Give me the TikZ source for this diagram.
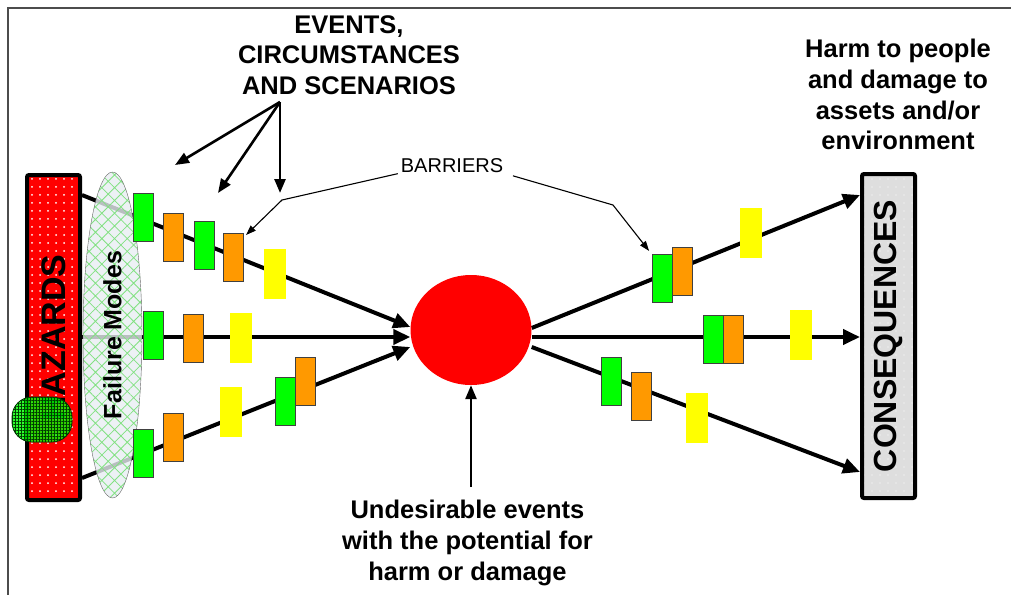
\documentclass[tikz,border=0pt]{standalone}
\usepackage{fontspec}
\setmainfont{Liberation Sans}
\usetikzlibrary{arrows.meta,shapes.geometric,patterns.meta}
\pgfdeclarelayer{back}
\pgfsetlayers{back,main}
\definecolor{hazred}{RGB}{255,0,0}
\definecolor{bargreen}{RGB}{0,255,0}
\definecolor{barorange}{RGB}{255,153,0}
\definecolor{baryellow}{RGB}{255,255,0}
\definecolor{modefill}{RGB}{232,238,242}
\definecolor{modehatch}{RGB}{130,225,130}
\definecolor{consgray}{RGB}{222,222,222}
\begin{document}
\begin{tikzpicture}[x=1pt,y=-1pt,
    gbar/.style={draw=black!75,line width=0.8pt,fill=bargreen,minimum width=20pt,minimum height=48pt,inner sep=0pt},
    obar/.style={gbar,fill=barorange},
    ybar/.style={fill=baryellow,minimum width=22pt,minimum height=50pt,inner sep=0pt},
    flow/.style={line width=4pt,-{Triangle[length=17pt,width=15pt]}},
    pointer/.style={line width=2.6pt,-{Triangle[length=14pt,width=11pt]}},
    thinpointer/.style={line width=1.1pt,-{Triangle[length=10pt,width=7pt]}},
    heading/.style={font=\fontsize{25.5}{30.7}\selectfont\bfseries,align=center,inner sep=0pt}]
  \useasboundingbox (0,0) rectangle (1011,595);
  \draw[line width=2pt,black!70] (1011,8) -- (8,8) -- (8,595);

  \node[draw,line width=4pt,rounded corners=2pt,preaction={fill=hazred},
        pattern={Dots[distance=8pt,radius=1pt]},pattern color=white,
        minimum width=325pt,minimum height=53pt,inner sep=0pt,rotate=90,
        font=\fontsize{34}{40}\selectfont\bfseries] (haz) at (53.5,337.5) {HAZARDS};
  \node[draw=green!20!black,line width=0.8pt,rounded corners=20pt,preaction={fill=bargreen,fill opacity=0.82},
        pattern={Hatch[angle=0,distance=3pt,line width=0.5pt]},pattern color=green!25!black,
        minimum width=60pt,minimum height=45pt,inner sep=0pt] (spot) at (42,419.5) {};
  \node[ellipse,draw=black!60,preaction={fill=modefill,fill opacity=0.8},
        pattern={Hatch[angle=45,distance=9pt,line width=0.8pt]},pattern color=modehatch,
        minimum width=326pt,minimum height=59pt,inner sep=0pt,rotate=90,
        font=\fontsize{25}{30}\selectfont\bfseries] (fm) at (112.5,335) {Failure Modes};
  \node[ellipse,fill=hazred,minimum width=121pt,minimum height=110pt,inner sep=0pt] (ev) at (471,330) {};
  \node[draw,line width=4pt,rounded corners=2pt,preaction={fill=consgray},
        pattern={Dots[distance=8pt,radius=0.7pt]},pattern color=white,
        minimum width=324pt,minimum height=53pt,inner sep=0pt,rotate=90,
        font=\fontsize{32}{38}\selectfont\bfseries] (cons) at (888.5,336) {CONSEQUENCES};

  \draw
    (143,217.5) node[gbar] (g1) {}
    (173,237) node[obar] (o1) {}
    (204,245.5) node[gbar] (g2) {}
    (233.5,257.5) node[obar] (o2) {}
    (274.5,274) node[ybar] (y1) {}
    (153,335) node[gbar] (g3) {}
    (193,338.5) node[obar] (o3) {}
    (241,338) node[ybar] (y2) {}
    (143,453.5) node[gbar] (g4) {}
    (173,437) node[obar] (o4) {}
    (231,412) node[ybar] (y3) {}
    (285.5,401) node[gbar] (g5) {}
    (305,381) node[obar] (o5) {}
    (662,278.5) node[gbar] (g6) {}
    (682,271) node[obar] (o6) {}
    (750.5,232.5) node[ybar] (y4) {}
    (713,339.5) node[gbar] (g7) {}
    (733,339.5) node[obar] (o7) {}
    (801,334.5) node[ybar] (y5) {}
    (611.5,381) node[gbar] (g8) {}
    (641,396) node[obar] (o8) {}
    (697,418) node[ybar] (y6) {};

  \node[heading,anchor=north] (evt) at (349,15) {EVENTS,\\CIRCUMSTANCES\\AND SCENARIOS};
  \node[heading,anchor=north] (harm) at (898,39) {Harm to people\\and damage to\\assets and/or\\environment};
  \node[heading,anchor=north] (undes) at (467.5,500) {Undesirable events\\with the potential for\\harm or damage};
  \node[font=\fontsize{20}{24}\selectfont,inner sep=0pt,anchor=south] (bar) at (452,173) {BARRIERS};

  \begin{pgfonlayer}{back}
    \draw[flow] (haz.south |- 0,195) -- (ev.west |- 0,327);
    \draw[flow] (haz.south |- 0,337) -- (ev.west |- 0,337);
    \draw[flow] (haz.south |- 0,478) -- (ev.west |- 0,347);
    \draw[flow] (ev.east |- 0,328) -- (cons.north |- 0,195);
    \draw[flow] (ev.east |- 0,337) -- (cons.north |- 0,337);
    \draw[flow] (ev.east |- 0,347) -- (cons.north |- 0,472);
  \end{pgfonlayer}

  \coordinate (evfoot) at (280,102);
  \coordinate (e1) at (175,165);
  \coordinate (e2) at (218,193);
  \coordinate (e3) at (280,193);
  \coordinate (bk1) at (282,200);
  \coordinate (bk2) at (613,205);
  \begin{scope}[pointer]
    \draw (evfoot) to (e1);
    \draw (evfoot) to (e2);
    \draw (evfoot) to (e3);
    \draw[shorten <=13pt] (undes.north -| ev.south) to (ev.south);
  \end{scope}
  \draw[thinpointer,shorten <=3pt,shorten >=3pt] (bar.south west) -- (bk1) -- (o2.63);
  \draw[thinpointer,shorten <=10pt,shorten >=4pt] (bar.south east) -- (bk2) -- (g6.north west);
\end{tikzpicture}
\end{document}
